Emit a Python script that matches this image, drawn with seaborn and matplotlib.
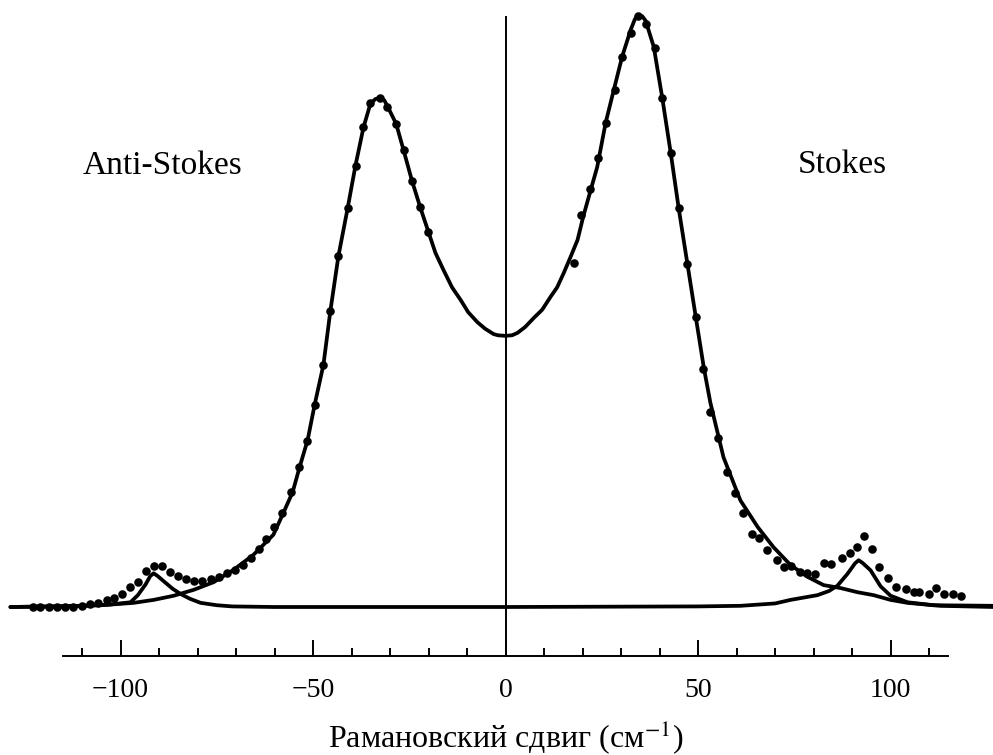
import numpy as np
import pandas as pd
import seaborn as sns
import matplotlib.pyplot as plt
from matplotlib.ticker import FixedLocator

# experimental points: Raman shift (cm-1) and intensity scaled to the Stokes maximum
dots_x = [-122.8, -120.8, -118.6, -116.4, -114.3, -112.3, -110.1, -108.0, -105.9, -103.6,
          -101.7, -99.6, -97.6, -95.5, -93.3, -91.4, -89.2, -87.2, -85.1, -83.1,
          -81.0, -78.8, -76.6, -74.5, -72.3, -70.3, -68.2, -66.2, -64.1, -62.2,
          -60.2, -58.1, -55.6, -53.6, -51.5, -49.6, -47.3, -45.5, -43.4, -41.0,
          -38.9, -36.9, -35.1, -32.7, -30.7, -28.5, -26.5, -24.3, -22.2, -20.1,
          17.7, 19.7, 21.9, 24.0, 26.1, 28.3, 30.3, 32.5, 34.5, 36.6,
          38.8, 40.7, 42.9, 45.0, 47.2, 49.4, 51.2, 53.2, 55.3, 57.4,
          59.5, 61.6, 63.9, 65.7, 68.0, 70.4, 72.2, 74.2, 76.4, 78.4,
          80.5, 82.6, 84.6, 87.3, 89.4, 91.2, 93.0, 95.3, 97.1, 99.2,
          101.3, 103.9, 106.0, 107.3, 109.9, 111.9, 114.0, 116.1, 118.2]
dots_y = [0.000, 0.000, 0.000, 0.000, 0.000, 0.000, 0.002, 0.005, 0.007, 0.011,
          0.016, 0.022, 0.033, 0.043, 0.060, 0.069, 0.069, 0.059, 0.052, 0.047,
          0.044, 0.044, 0.047, 0.051, 0.057, 0.063, 0.071, 0.083, 0.098, 0.115,
          0.135, 0.159, 0.194, 0.236, 0.281, 0.341, 0.409, 0.500, 0.593, 0.674,
          0.745, 0.811, 0.852, 0.859, 0.844, 0.816, 0.772, 0.720, 0.675, 0.634,
          0.581, 0.662, 0.706, 0.759, 0.818, 0.873, 0.929, 0.970, 0.998, 0.985,
          0.944, 0.860, 0.767, 0.674, 0.580, 0.490, 0.402, 0.330, 0.285, 0.228,
          0.193, 0.159, 0.123, 0.116, 0.096, 0.079, 0.067, 0.069, 0.059, 0.057,
          0.056, 0.074, 0.073, 0.083, 0.091, 0.101, 0.120, 0.098, 0.068, 0.049,
          0.034, 0.030, 0.025, 0.025, 0.022, 0.032, 0.022, 0.022, 0.019]

# fitted two-peak contour
fit_x = [-128.6, -115.0, -105.0, -96.6, -91.4, -86.2, -81.0, -75.8, -70.6, -65.5,
         -60.3, -57.7, -55.3, -53.5, -51.4, -49.6, -47.3, -45.5, -43.4, -41.0,
         -39.0, -36.9, -35.1, -33.8, -32.7, -31.5, -30.6, -28.4, -26.5, -24.3,
         -22.1, -20.0, -18.2, -16.1, -13.9, -11.7, -9.7, -7.3, -5.3, -3.1,
         -2.0, 0.0, 1.7, 3.1, 5.1, 7.3, 9.5, 11.7, 13.4, 15.1,
         16.8, 18.7, 20.2, 22.1, 23.8, 26.0, 28.1, 30.3, 32.5, 33.6,
         34.5, 35.5, 36.4, 38.5, 40.7, 42.9, 45.0, 47.2, 49.4, 51.5,
         53.2, 56.6, 61.0, 65.5, 69.6, 74.0, 78.4, 82.6, 87.0, 91.4,
         95.6, 100.0, 104.4, 113.0, 126.8]
fit_y = [0.000, 0.001, 0.003, 0.007, 0.012, 0.019, 0.029, 0.042, 0.063, 0.088,
         0.122, 0.159, 0.194, 0.236, 0.282, 0.341, 0.409, 0.500, 0.593, 0.674,
         0.745, 0.810, 0.850, 0.858, 0.860, 0.856, 0.845, 0.816, 0.772, 0.720,
         0.674, 0.633, 0.598, 0.569, 0.540, 0.519, 0.498, 0.481, 0.470, 0.461,
         0.459, 0.458, 0.459, 0.463, 0.473, 0.488, 0.502, 0.524, 0.540, 0.564,
         0.590, 0.620, 0.660, 0.704, 0.743, 0.818, 0.873, 0.930, 0.975, 0.993,
         1.000, 0.998, 0.990, 0.946, 0.860, 0.767, 0.672, 0.581, 0.490, 0.404,
         0.345, 0.253, 0.180, 0.135, 0.101, 0.071, 0.051, 0.037, 0.032, 0.025,
         0.020, 0.012, 0.007, 0.002, 0.000]

# weak side bands near +-92 cm-1
side_x = [-128.6, -110.0, -103.0, -97.4, -95.5, -93.5, -92.3, -91.4, -90.3, -88.5,
          -86.5, -84.4, -82.0, -79.2, -75.0, -71.0, -60.0, 0.0, 50.0, 61.0,
          70.0, 74.0, 81.0, 84.0, 86.2, 88.8, 90.8, 91.7, 92.8, 94.8,
          97.4, 100.0, 104.4, 111.0, 126.8]
side_y = [0.000, 0.002, 0.004, 0.008, 0.020, 0.038, 0.052, 0.057, 0.052, 0.042,
          0.031, 0.022, 0.014, 0.007, 0.003, 0.001, 0.000, 0.000, 0.001, 0.002,
          0.006, 0.012, 0.020, 0.027, 0.036, 0.056, 0.074, 0.079, 0.074, 0.062,
          0.035, 0.019, 0.008, 0.003, 0.002]

major_ticks = [-100, -50, 0, 50, 100]
minor_ticks = [-110, -90, -80, -70, -60, -40, -30, -20, -10,
               10, 20, 30, 40, 60, 70, 80, 90, 110]

sns.set_style("white", {"axes.edgecolor": "black", "text.color": "black",
                        "axes.labelcolor": "black", "xtick.color": "black"})
plt.rcParams["font.family"] = ["Liberation Serif", "DejaVu Serif"]
plt.rcParams["mathtext.fontset"] = "stix"

fig = plt.figure(figsize=(9.93, 7.55), dpi=100)
ax = fig.add_axes([0, 0.1311, 1, 0.8689])

sns.lineplot(x=fit_x, y=fit_y, ax=ax, color="black", lw=2.7, sort=False, estimator=None)
sns.lineplot(x=side_x, y=side_y, ax=ax, color="black", lw=2.7, sort=False, estimator=None)
sns.scatterplot(x=dots_x, y=dots_y, ax=ax, color="black", s=38, linewidth=0, zorder=3)

ax.set_xlim(-131.3, 126.6)
ax.set_ylim(-0.0828, 1.0253)

# y axis is just the vertical line through zero
ax.spines["top"].set_visible(False)
ax.spines["right"].set_visible(False)
ax.spines["left"].set_position(("data", 0))
ax.spines["left"].set_bounds(-0.0828, 0.997)
ax.spines["left"].set_linewidth(1.4)
ax.spines["bottom"].set_bounds(-115, 115)
ax.spines["bottom"].set_linewidth(1.4)
ax.set_yticks([])

ax.xaxis.set_major_locator(FixedLocator(major_ticks))
ax.xaxis.set_minor_locator(FixedLocator(minor_ticks))
ax.tick_params(axis="x", which="major", direction="in", length=11.5, width=1.4,
               pad=16, labelsize=20, bottom=True, colors="black")
ax.tick_params(axis="x", which="minor", direction="in", length=5.8, width=1.4,
               bottom=True, colors="black")

ax.set_xlabel("Рамановский сдвиг (см$^{-1}$)", fontsize=23, color="black")
ax.xaxis.set_label_coords(0.509, -0.094)

ax.text(-89.2, 0.731, "Anti-Stokes", fontsize=24, ha="center", va="baseline", color="black")
ax.text(87.4, 0.733, "Stokes", fontsize=24, ha="center", va="baseline", color="black")

fig.savefig("out.png", dpi=100)
